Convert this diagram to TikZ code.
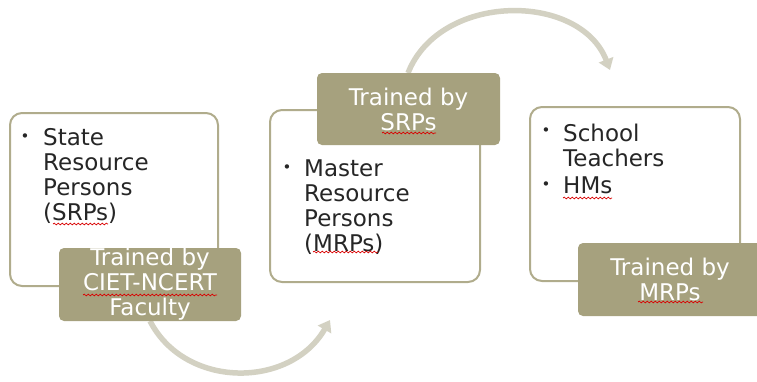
\documentclass[tikz,border=0pt]{standalone}
\usepackage{fontspec}
\setmainfont{DejaVu Sans}
\usetikzlibrary{arrows.meta,decorations.pathmorphing}
\definecolor{olive}{RGB}{166,161,126}
\definecolor{boxline}{RGB}{176,172,140}
\definecolor{arcgray}{RGB}{211,209,194}
\definecolor{txt}{RGB}{38,38,38}
\begin{document}
\begin{tikzpicture}[x=1pt,y=-1pt,
  whitebox/.style={draw=boxline,line width=2pt,fill=white,rounded corners=12pt,inner sep=0pt},
  labelbox/.style={fill=olive,rounded corners=5pt,inner sep=0pt,text=white,align=center,
     font=\fontsize{23}{25}\selectfont},
  itemtext/.style={anchor=north west,inner sep=0pt,align=left,text=txt,
     font=\fontsize{23}{25}\selectfont},
  bul/.style={inner sep=0pt,text=txt,font=\fontsize{15}{15}\selectfont},
  arc/.style={draw=arcgray,line width=5.5pt,-{Triangle[width=15pt,length=11pt]}},
  squig/.style={draw=red!85!black,line width=0.7pt,decorate,
     decoration={snake,segment length=4pt,amplitude=0.9pt}}
]
\useasboundingbox (0,0) rectangle (757,381);
% white boxes
\draw[whitebox] (10,113) rectangle (218,286);
\draw[whitebox] (270,110) rectangle (480,282);
\draw[whitebox] (530,107) rectangle (740,281);
% box texts
\node[bul] (b1) at (25,138) {\textbullet};
\node[itemtext] (t1) at (43,128.5) {State\\Resource\\Persons\\(SRPs)};
\node[bul] (b2) at (287,169) {\textbullet};
\node[itemtext] (t2) at (304,159.5) {Master\\Resource\\Persons\\(MRPs)};
\node[bul] (b3) at (546,132) {\textbullet};
\node[itemtext] (t3) at (563,123.5) {School\\Teachers};
\node[bul] (b4) at (546,186) {\textbullet};
\node[itemtext] (t4) at (563,176.5) {HMs};
% arrows
\coordinate (e1) at (330,320);
\coordinate (e2) at (610,70);
\coordinate (s1) at (150,321);
\coordinate (s2) at (408,73);
\draw[arc] (s1) .. controls (185,389) and (290,389) .. (e1);
\draw[arc] (s2) .. controls (440,-8) and (580,-8) .. (e2);
% labels
\node[labelbox,minimum width=182pt,minimum height=73pt] (l1) at (150,284.5) {Trained by\\CIET-NCERT\\Faculty};
\node[labelbox,minimum width=183pt,minimum height=72pt] (l2) at (408.5,109) {Trained by\\SRPs};
\node[labelbox,minimum width=184pt,minimum height=73pt] (l3) at (670,279.5) {Trained by\\MRPs};
% spell-check marks
\draw[squig] (53,224) -- (108,224);
\draw[squig] (83,295) -- (217,295);
\draw[squig] (382,133) -- (436,133);
\draw[squig] (313,252) -- (378,252);
\draw[squig] (563,198) -- (612,198);
\draw[squig] (638,302) -- (703,302);
\end{tikzpicture}
\end{document}
